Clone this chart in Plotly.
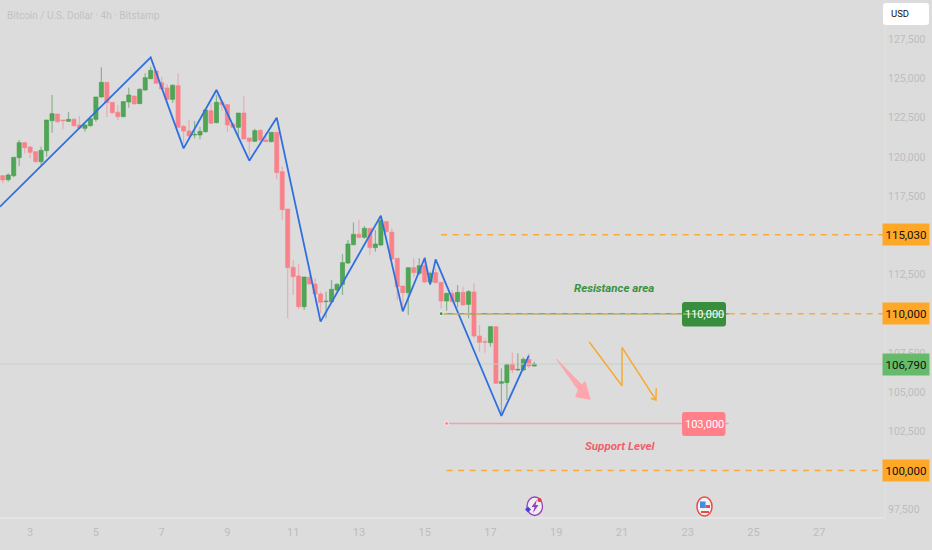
import pandas as pd
import plotly.graph_objects as go

# --- Candle data (4h BTC/USD) ---
opens = [118804, 118549, 118804, 119952, 120909, 120633, 120335, 119697, 120399, 122312,
         122737, 122355, 122270, 122397, 122036, 121823, 121993, 122397, 123822, 124757,
         123481, 122844, 122567, 123503, 123885, 123396, 124268, 124991, 125480, 124736,
         124396, 123673, 124544, 121951, 121653, 121398, 121398, 121610, 122950, 122185,
         123481, 123333, 122099, 121887, 122801, 121207, 120994, 121696, 121079, 120973,
         121568, 119059, 116678, 112957, 112405, 110449, 112320, 111894, 111257, 110768,
         110768, 111512, 111873, 113234, 114403, 115062, 114871, 115445, 114212, 114382,
         115870, 115211, 113531, 111767, 111342, 112936, 112575, 113064, 112022, 112617,
         112001, 110810, 111299, 110768, 111363, 110598, 111385, 108579, 108217, 108153,
         109174, 105560, 105602, 106793, 106410, 106410, 107090, 106665]
highs = [118847, 118953, 119973, 121079, 120973, 120696, 120335, 120654, 122355, 123949,
         122737, 122355, 122865, 122461, 122610, 122099, 122567, 123822, 125714, 124757,
         123481, 123311, 123566, 124417, 123885, 124374, 125331, 125756, 125480, 125118,
         124651, 124629, 125331, 122036, 122355, 122291, 121929, 123099, 123418, 123949,
         123524, 123375, 122142, 122801, 123885, 121207, 121802, 121759, 121504, 121568,
         121568, 119421, 116678, 113425, 113170, 112341, 112468, 112256, 111405, 111405,
         112150, 111937, 113808, 114701, 115828, 115976, 115594, 115445, 115339, 116189,
         115934, 115445, 113531, 111767, 112936, 113531, 113531, 113638, 112681, 112894,
         112001, 111342, 111512, 111831, 111724, 111512, 111938, 109280, 108430, 109216,
         109174, 106516, 106771, 107516, 107473, 107218, 107473, 106941]
lows = [118315, 118421, 118698, 119421, 120229, 119910, 119633, 119484, 120016, 121547,
        122142, 121759, 122227, 121929, 121759, 121610, 121929, 122248, 123800, 122525,
        122737, 122355, 122525, 123141, 123375, 123375, 124225, 124948, 124651, 124268,
        123630, 123460, 121887, 120866, 121292, 121185, 121122, 121547, 122099, 122142,
        122950, 121610, 121887, 121292, 121143, 120016, 120951, 120973, 120973, 120930,
        118570, 115977, 109705, 111193, 110279, 110236, 111894, 111257, 110024, 109705,
        110725, 111405, 111193, 113170, 114361, 114786, 114786, 113744, 113957, 114339,
        115190, 113425, 110874, 110342, 109917, 112362, 112468, 111937, 111831, 111937,
        110342, 110194, 110725, 110406, 110513, 109705, 108430, 107579, 107516, 107898,
        105517, 103646, 104497, 106197, 106346, 106367, 106516, 106623]
closes = [118528, 118847, 119973, 120909, 120590, 120292, 119697, 120420, 122355, 122759,
          122248, 122291, 122397, 121993, 121844, 122036, 122440, 123822, 124757, 123460,
          122822, 122567, 123524, 123949, 123375, 124311, 125055, 125522, 124693, 124332,
          123673, 124566, 121887, 121653, 121334, 121440, 121632, 122992, 122142, 123481,
          123333, 122036, 121887, 122801, 121143, 120994, 121674, 121079, 120973, 121568,
          118996, 116636, 112936, 112362, 110449, 112341, 111894, 111257, 110725, 110810,
          111554, 111873, 113255, 114446, 115062, 114871, 115445, 114212, 114446, 115934,
          115232, 113489, 111724, 111342, 112936, 112617, 113064, 112022, 112575, 111980,
          110810, 111299, 110768, 111363, 110555, 111405, 108579, 108175, 108175, 109174,
          105560, 105666, 106771, 106410, 106453, 107090, 106665, 106790]

# blue swing line
zigzag_times = ["2025-10-02 02:00", "2025-10-06 16:00", "2025-10-07 16:00", "2025-10-08 16:00",
                "2025-10-09 16:00", "2025-10-10 12:00", "2025-10-11 20:00", "2025-10-13 16:00",
                "2025-10-14 08:00", "2025-10-15 00:00", "2025-10-15 04:00", "2025-10-15 08:00",
                "2025-10-17 08:00", "2025-10-18 04:00"]
zigzag_prices = [116827, 126351, 120547, 124268, 119761, 122503, 109492, 116253,
                 110151, 113553, 111873, 113468, 103476, 107324]

# orange forecast arrow
forecast_times = ["2025-10-20 00:00", "2025-10-21 00:00", "2025-10-21 00:00", "2025-10-22 00:48",
                  "2025-10-21 21:00", "2025-10-22 00:48", "2025-10-22 01:00"]
forecast_prices = [108215, 105408, 107858, 104496, 104605, 104496, 105243]

# pink arrow
pink_times = ["2025-10-19 00:24", "2025-10-19 18:38", "2025-10-19 21:00", "2025-10-20 00:48",
              "2025-10-19 14:12", "2025-10-19 16:12", "2025-10-19 00:24"]
pink_prices = [107092, 105453, 105664, 104541, 104707, 105134, 107092]

# price levels
LEVEL_END = "2025-10-29 00:00"
LEVEL_START = "2025-10-15 12:00"
SUPPORT_START = "2025-10-15 16:00"
LABEL_TIME = "2025-10-24 06:00"
level_115 = 115030
level_110 = 110000
level_103 = 103000
level_100 = 100000
last_price = 106790

# 100,000 / 110,000 / 115,000 sit behind the orange tags, so they are left out
y_ticks = [97500, 102500, 105000, 107500, 112500, 117500, 120000, 122500, 125000, 127500]
x_days = [3, 5, 7, 9, 11, 13, 15, 17, 19, 21, 23, 25, 27]

# --- Colours ---
BG = "#dcdcdc"
GREEN_BODY = "#4fa655"
RED_BODY = "#f9828a"
ORANGE = "#f7ab3d"
TAG_ORANGE = "#ffa726"
TICK_GREY = "#bcbcbc"
FONT = "Roboto"

PLOT_W = 885
PLOT_H = 518
CANDLE_WIDTH_MS = 10800000


def px(x):
    return x / PLOT_W


def py(y):
    return 1 - y / PLOT_H


def round_box(x0, y0, x1, y1, color, r=3):
    path = (f"M {px(x0 + r)} {py(y0)} L {px(x1 - r)} {py(y0)} Q {px(x1)} {py(y0)} {px(x1)} {py(y0 + r)} "
            f"L {px(x1)} {py(y1 - r)} Q {px(x1)} {py(y1)} {px(x1 - r)} {py(y1)} "
            f"L {px(x0 + r)} {py(y1)} Q {px(x0)} {py(y1)} {px(x0)} {py(y1 - r)} "
            f"L {px(x0)} {py(y0 + r)} Q {px(x0)} {py(y0)} {px(x0 + r)} {py(y0)} Z")
    return dict(type="path", xref="paper", yref="paper", path=path, fillcolor=color, line_width=0)


def tag(price, text, bg, fg="#111111"):
    fig.add_annotation(xref="paper", yref="y", x=px(906), y=price, text=text, showarrow=False,
                       xanchor="center", yanchor="middle", font=dict(family=FONT, size=11.5, color=fg),
                       bgcolor=bg, width=42, height=17, borderpad=2)


def label(x, y, text, size, color, anchor="center"):
    fig.add_annotation(xref="paper", yref="paper", x=px(x), y=py(y), text=text, showarrow=False,
                       xanchor=anchor, yanchor="middle", font=dict(family=FONT, size=size, color=color))


def level_line(x0, x1, price, color, width, dash=None):
    fig.add_trace(go.Scatter(x=[x0, x1], y=[price, price], mode="lines",
                             line=dict(color=color, width=width, dash=dash), hoverinfo="skip"))


times = pd.date_range("2025-10-02 04:00", periods=len(opens), freq="4h")
body_high = [max(o, c) for o, c in zip(opens, closes)]
body_low = [min(o, c) for o, c in zip(opens, closes)]
is_up = [c >= o for o, c in zip(opens, closes)]

# wick segments, one trace per colour
wick_x = {True: [], False: []}
wick_y = {True: [], False: []}
for t, h, l, top, bot, up in zip(times, highs, lows, body_high, body_low, is_up):
    wick_x[up] += [t, t, None, t, t, None]
    wick_y[up] += [h, top, None, bot, l, None]

fig = go.Figure()

# last price line under everything
level_line("2025-10-02 02:00", LEVEL_END, last_price, "#c6d0c6", 1)

fig.add_trace(go.Bar(
    x=times,
    y=[t - b for t, b in zip(body_high, body_low)],
    base=body_low,
    width=CANDLE_WIDTH_MS,
    marker=dict(color=[GREEN_BODY if u else RED_BODY for u in is_up],
                line=dict(color=["#3f9a48" if u else RED_BODY for u in is_up], width=0.6)),
))
fig.add_trace(go.Scatter(x=wick_x[True], y=wick_y[True], mode="lines", hoverinfo="skip",
                         line=dict(color="rgba(85,150,90,0.6)", width=1.2)))
fig.add_trace(go.Scatter(x=wick_x[False], y=wick_y[False], mode="lines", hoverinfo="skip",
                         line=dict(color="rgba(240,130,138,0.5)", width=1.2)))

fig.add_trace(go.Scatter(x=zigzag_times, y=zigzag_prices, mode="lines",
                         line=dict(color="#2f6fdf", width=1.8), hoverinfo="skip"))

# levels
level_line(LEVEL_START, LABEL_TIME, level_110, "#7fa67f", 1.5)
level_line(LEVEL_START, LEVEL_END, level_115, ORANGE, 1.5, "6px,5.5px")
level_line(LEVEL_START, LEVEL_END, level_110, ORANGE, 1.5, "6px,5.5px")
level_line(SUPPORT_START, LABEL_TIME, level_103, "#eda3aa", 1.5)
level_line(SUPPORT_START, LEVEL_END, level_100, ORANGE, 1.5, "6px,5.5px")
fig.add_trace(go.Scatter(x=[LEVEL_START], y=[level_110], mode="markers", hoverinfo="skip",
                         marker=dict(size=4, color="#4f8f3f", line=dict(color="#f4f4f4", width=1))))
fig.add_trace(go.Scatter(x=[SUPPORT_START], y=[level_103], mode="markers", hoverinfo="skip",
                         marker=dict(size=4, color="#f58a93", line=dict(color="#f4f4f4", width=1))))

# drawings
fig.add_trace(go.Scatter(x=pink_times, y=pink_prices, mode="lines", fill="toself",
                         fillcolor="#ffa5ad", line=dict(color="#ffa5ad", width=1), hoverinfo="skip"))
fig.add_trace(go.Scatter(x=forecast_times, y=forecast_prices, mode="lines",
                         line=dict(color="#f6ab33", width=1.5), hoverinfo="skip"))

shapes = [
    # axis borders
    dict(type="line", xref="paper", yref="paper", x0=px(885), x1=px(885), y0=0, y1=1,
         line=dict(color="#e2e2e2", width=1)),
    dict(type="line", xref="paper", yref="paper", x0=0, x1=px(885), y0=0, y1=0,
         line=dict(color="#ececec", width=1)),
    # USD box
    round_box(883, 3, 929, 25, "#ffffff", 3),
    # label boxes on the chart
    round_box(682, 302, 726, 326.5, "#388e3c", 3),
    dict(type="line", xref="paper", yref="paper", x0=px(683), x1=px(724), y0=py(314), y1=py(314),
         line=dict(color="#c9d77a", width=1)),
    round_box(682, 412, 725.5, 436, "#ff7f8a", 3),
    # calendar icon, purple
    dict(type="circle", xref="paper", yref="paper", x0=px(527), x1=px(542.5), y0=py(515.5), y1=py(497),
         fillcolor="#eeeeee", line=dict(color="#9c3fc0", width=1.3)),
    dict(type="path", xref="paper", yref="paper", line_width=0, fillcolor="#9c3fc0",
         path=(f"M {px(537)} {py(499.5)} L {px(531.5)} {py(507)} L {px(534.5)} {py(507)} L {px(533)} {py(513)} "
               f"L {px(538.5)} {py(505)} L {px(535.5)} {py(505)} Z")),
    dict(type="circle", xref="paper", yref="paper", x0=px(537.5), x1=px(541.5), y0=py(502), y1=py(498),
         fillcolor="#e5383b", line_width=0),
    dict(type="path", xref="paper", yref="paper", line_width=0, fillcolor="#4c3fe0",
         path=(f"M {px(525)} {py(509.5)} L {px(528)} {py(506.5)} L {px(531)} {py(509.5)} L {px(528)} {py(512.5)} Z")),
    # calendar icon, US flag
    dict(type="circle", xref="paper", yref="paper", x0=px(697), x1=px(712), y0=py(516), y1=py(497),
         fillcolor="#f2f2f2", line=dict(color="#ea4a4a", width=1.5)),
    dict(type="rect", xref="paper", yref="paper", x0=px(700), x1=px(705.5), y0=py(508), y1=py(501.5),
         fillcolor="#3f8fe0", line_width=0),
    dict(type="rect", xref="paper", yref="paper", x0=px(705.5), x1=px(710), y0=py(508), y1=py(505),
         fillcolor="#ea4a4a", line_width=0),
    dict(type="rect", xref="paper", yref="paper", x0=px(701), x1=px(709), y0=py(513), y1=py(511),
         fillcolor="#ea4a4a", line_width=0),
]

fig.update_layout(
    width=932,
    height=550,
    margin=dict(l=0, r=47, t=0, b=32),
    paper_bgcolor=BG,
    plot_bgcolor=BG,
    showlegend=False,
    shapes=shapes,
    font=dict(family=FONT, color=TICK_GREY),
    xaxis=dict(
        type="date",
        range=["2025-10-02 02:00", LEVEL_END],
        showgrid=False,
        zeroline=False,
        showline=False,
        tickmode="array",
        tickvals=[f"2025-10-{d:02d}" for d in x_days],
        ticktext=[str(d) for d in x_days],
        ticks="",
        ticklabelstandoff=6,
        tickfont=dict(family=FONT, size=11, color=TICK_GREY),
    ),
    yaxis=dict(
        side="right",
        range=[96970, 130008],
        showgrid=False,
        zeroline=False,
        showline=False,
        tickmode="array",
        tickvals=y_ticks,
        tickformat=",",
        ticks="",
        ticklabelstandoff=2,
        tickfont=dict(family=FONT, size=10.5, color=TICK_GREY),
    ),
)

# price tags on the axis
tag(level_115, "115,030", TAG_ORANGE)
tag(level_110, "110,000", TAG_ORANGE)
tag(level_100, "100,000", TAG_ORANGE)
tag(last_price, "106,790", "#66bb6a")

# text on the chart
label(5, 15, "Bitcoin / U.S. Dollar · 4h · Bitstamp", 10, "#c2c2c2", "left")
label(889, 14, "USD", 9.5, "#111111", "left")
label(704, 314, "110,000", 11, "#ffffff")
label(704, 424, "103,000", 11, "#ffffff")
label(614, 288, "<i><b>Resistance area</b></i>", 11.5, "#3b9141")
label(620, 446, "<i><b>Support Level</b></i>", 11.5, "#ef5f6b")

# the page's default body margin would shift the chart by 8px
fig.write_html("out.html", config=dict(displayModeBar=False),
               post_script="document.body.style.margin='0';")
